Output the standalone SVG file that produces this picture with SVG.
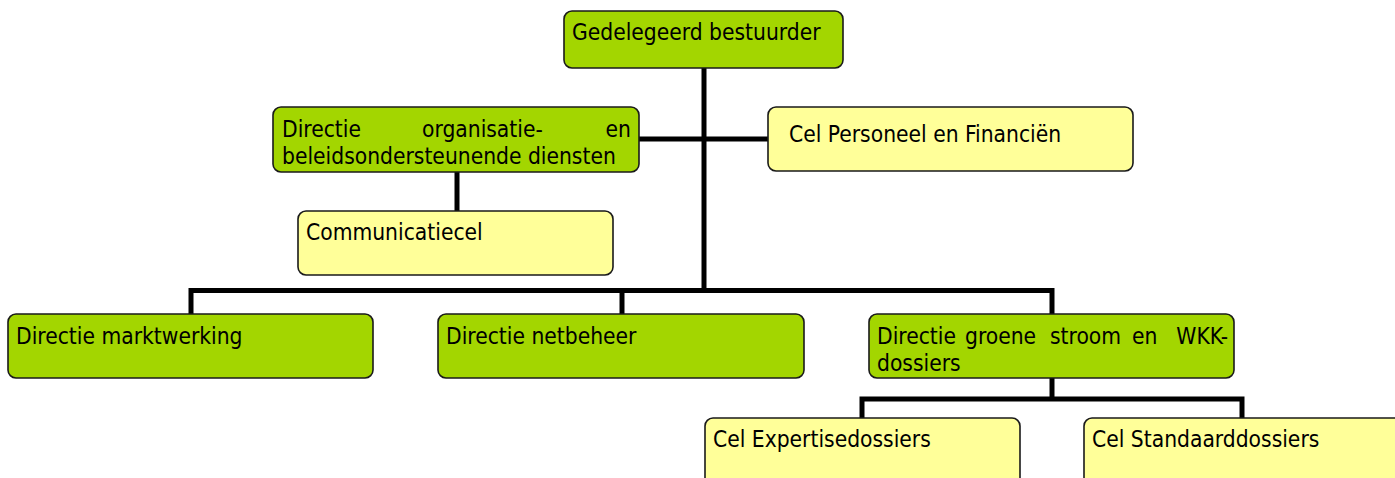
<svg xmlns="http://www.w3.org/2000/svg" width="1395" height="478" viewBox="0 0 1395 478">
<style>
.g{fill:#a3d600;stroke:#1a1a1a;stroke-width:1.6}
.y{fill:#ffff99;stroke:#1a1a1a;stroke-width:1.6}
text{font-family:"DejaVu Sans Condensed","DejaVu Sans",sans-serif;font-stretch:condensed;font-size:22.6px;fill:#000}
.c{fill:none;stroke:#000;stroke-width:5;stroke-linejoin:miter;stroke-linecap:butt}
</style>
<rect width="1395" height="478" fill="#fff"/>
<g id="connectors">
<path class="c" d="M704,68 V293"/>
<path class="c" d="M639,139 H768"/>
<path class="c" d="M457,172 V211"/>
<path class="c" d="M191,314 V290.5 H1052 V314"/>
<path class="c" d="M622,290.5 V314"/>
<path class="c" d="M1052,378 V399"/>
<path class="c" d="M862,418 V399 H1242 V418"/>
</g>
<g id="n-bestuurder"><rect class="g" x="564" y="11" width="279" height="57" rx="8"/><text x="572" y="40">Gedelegeerd bestuurder</text></g>
<g id="n-organisatie"><rect class="g" x="273" y="107" width="366" height="65" rx="8"/>
<text x="282" y="137">Directie</text><text x="422" y="137">organisatie-</text><text x="631" y="137" text-anchor="end">en</text>
<text x="282" y="164">beleidsondersteunende diensten</text></g>
<g id="n-communicatie"><rect class="y" x="298" y="211" width="315" height="64" rx="8"/><text x="306" y="240">Communicatiecel</text></g>
<g id="n-personeel"><rect class="y" x="768" y="107" width="365" height="64" rx="8"/><text x="789" y="142">Cel Personeel en Financiën</text></g>
<g id="n-markt"><rect class="g" x="8" y="314" width="365" height="64" rx="8"/><text x="16" y="344">Directie marktwerking</text></g>
<g id="n-net"><rect class="g" x="438" y="314" width="366" height="64" rx="8"/><text x="446" y="344">Directie netbeheer</text></g>
<g id="n-groen"><rect class="g" x="869" y="314" width="365" height="64" rx="8"/>
<text x="877" y="344">Directie</text><text x="965" y="344">groene</text><text x="1050" y="344">stroom</text><text x="1132" y="344">en</text><text x="1228" y="344" text-anchor="end">WKK-</text>
<text x="877" y="371">dossiers</text></g>
<g id="n-expertise"><rect class="y" x="705" y="418" width="315" height="75" rx="8"/><text x="713" y="447">Cel Expertisedossiers</text></g>
<g id="n-standaard"><rect class="y" x="1084" y="418" width="330" height="75" rx="8"/><text x="1092" y="447">Cel Standaarddossiers</text></g>
</svg>
